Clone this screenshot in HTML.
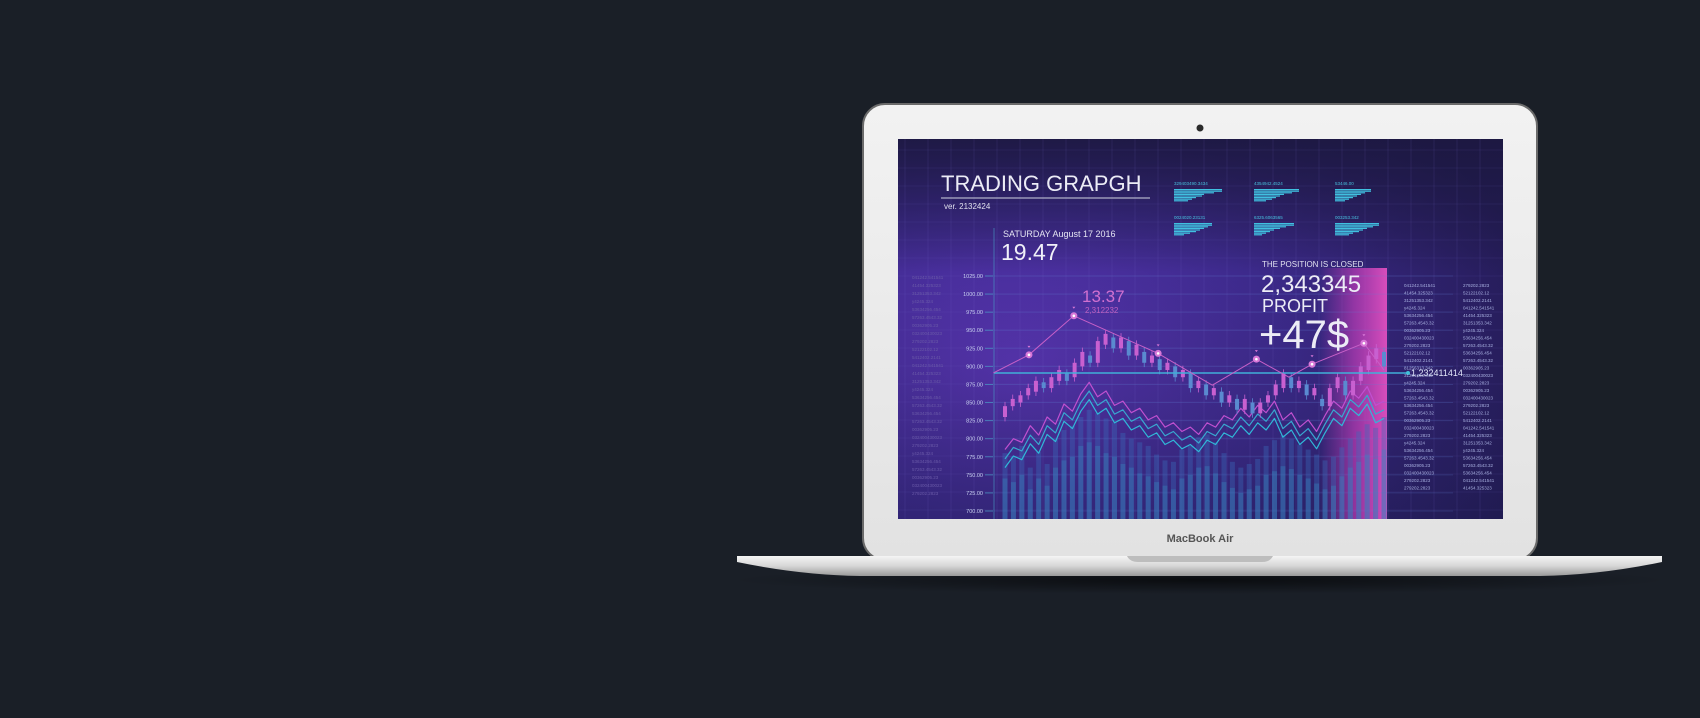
<!DOCTYPE html>
<html><head><meta charset="utf-8"><style>
html,body{margin:0;padding:0;background:#1a1f27;width:1700px;height:718px;overflow:hidden}
svg{display:block}
text{font-family:"Liberation Sans",sans-serif}
</style></head><body>
<svg id="root" width="1700" height="718" viewBox="0 0 1700 718">
<defs>
<linearGradient id="lid" x1="0" y1="0" x2="0" y2="1"><stop offset="0" stop-color="#f2f2f2"/><stop offset="1" stop-color="#e2e2e2"/></linearGradient>
<linearGradient id="base" x1="0" y1="0" x2="0" y2="1"><stop offset="0" stop-color="#f4f4f4"/><stop offset="0.5" stop-color="#d6d6d6"/><stop offset="1" stop-color="#9a9a9a"/></linearGradient>
<radialGradient id="scr" cx="0.2" cy="0.6" r="0.9"><stop offset="0" stop-color="#5b36b6"/><stop offset="0.5" stop-color="#3d2a8c"/><stop offset="1" stop-color="#231b54"/></radialGradient>
<linearGradient id="scrTop" x1="0" y1="0" x2="0" y2="1"><stop offset="0" stop-color="#1c1840" stop-opacity="0.9"/><stop offset="0.35" stop-color="#1c1840" stop-opacity="0"/><stop offset="1" stop-color="#1a1a4a" stop-opacity="0.35"/></linearGradient>
<linearGradient id="pink" x1="0" y1="0" x2="1" y2="0"><stop offset="0" stop-color="#d040c0" stop-opacity="0"/><stop offset="0.5" stop-color="#d040c0" stop-opacity="0.6"/><stop offset="1" stop-color="#e050c0" stop-opacity="0.95"/></linearGradient>
<radialGradient id="shadow" cx="0.5" cy="0.5" r="0.5"><stop offset="0" stop-color="#000" stop-opacity="0.6"/><stop offset="1" stop-color="#000" stop-opacity="0"/></radialGradient>
<clipPath id="clip"><rect x="898" y="139" width="605" height="380"/></clipPath>
</defs>
<ellipse cx="1200" cy="580" rx="470" ry="14" fill="url(#shadow)"/>
<rect x="863" y="104" width="674" height="456" rx="22" fill="url(#lid)" stroke="#6a6a6a" stroke-width="2"/>
<circle cx="1200" cy="128" r="3.5" fill="#2a2a2a"/>
<rect x="898" y="139" width="605" height="380" fill="url(#scr)"/>
<rect x="898" y="139" width="605" height="380" fill="url(#scrTop)" pointer-events="none"/>
<g id="screen" clip-path="url(#clip)"></g>
<text x="1200" y="542" font-size="11" font-weight="bold" fill="#555" text-anchor="middle">MacBook Air</text>
<path d="M737 556 L1662 556 L1662 562 Q1600 575 1540 576 L860 576 Q800 575 737 562 Z" fill="url(#base)"/>
<path d="M1127 556 L1273 556 Q1270 562 1262 562 L1138 562 Q1130 562 1127 556 Z" fill="#bdbdbd"/>
</svg>
<script>
const yTicks=[1025,1000,975,950,925,900,875,850,825,800,775,750,725,700];
const opens=[830,845,850,860,865,878,870,880,890,885,900,915,905,930,940,925,935,915,920,905,910,895,900,885,890,870,875,860,865,850,855,840,850,835,850,860,870,885,870,875,860,855,845,870,880,860,880,895,910,920];
const closes=[845,855,860,870,880,870,885,895,880,905,920,905,935,945,925,940,915,930,905,915,895,905,885,895,870,880,860,870,850,860,840,855,835,850,860,875,890,870,880,860,870,845,870,885,860,880,900,915,925,900];
const wave1=[785,800,795,818,805,830,820,848,838,862,878,858,866,846,852,836,842,826,832,816,822,810,816,806,822,816,832,826,842,830,846,836,852,826,836,816,826,810,832,852,842,866,856,872,846,852];
const wave2=[772,788,783,805,792,818,808,836,826,850,866,846,854,834,840,824,830,814,820,804,810,798,804,794,810,804,820,814,830,818,834,824,840,814,824,804,814,798,820,840,830,854,844,860,834,840];
const wave3=[760,776,771,793,780,806,796,824,814,838,854,834,842,822,828,812,818,802,808,792,798,786,792,782,798,792,808,802,818,806,822,812,828,802,812,792,802,786,808,828,818,842,832,848,822,828];
const barTops=[780,775,790,760,782,765,800,812,818,830,840,835,828,822,808,800,795,790,778,770,768,785,790,802,806,795,780,768,760,765,772,790,798,805,800,792,785,778,770,775,788,800,810,820,815,830];
const barLow=[745,740,750,730,745,735,760,770,775,790,795,790,780,775,765,760,752,748,740,735,730,745,750,760,762,752,740,732,725,730,735,750,755,762,758,750,745,738,730,735,748,760,768,778,772,785];
const pinkIdx=[-1.5,3.1,8.9,19.8,26.8,32.5,36.7,39.7,46.4,49];
const pinkVal=[891,916,970,918,874,910,885,903,932,895];
const pinkDots=[1,2,3,5,7,8];
const leftNums=["041242.541541","41454.325323","31251353.342","y4245.324","53634256.454","57263.4543.32","00362905.23","032400430023","279202.2823","52122102.12","5412402.2141","041242.541541","41454.325323","31251353.342","y4245.324","53634256.454","57263.4543.32","53634256.454","57263.4543.32","00362905.23","032400430023","279202.2823","y4245.324","53634256.454","57263.4543.32","00362905.23","032400430023","279202.2823"];
const rightNums1=["041242.541541","41454.325323","31251353.342","y4245.324","53634256.454","57263.4543.32","00362905.23","032400430023","279202.2823","52122102.12","5412402.2141","81256313.342","31251353.342","y4245.324","53634256.454","57263.4543.32","53634256.454","57263.4543.32","00362905.23","032400430023","279202.2823","y4245.324","53634256.454","57263.4543.32","00362905.23","032400430023","279202.2823","279202.2823"];
const rightNums2=["279202.2823","52122102.12","5412402.2141","041242.541541","41454.325323","31251353.342","y4245.324","53634256.454","57263.4543.32","53634256.454","57263.4543.32","00362905.23","032400430023","279202.2823","00362905.23","032400430023","279202.2823","52122102.12","5412402.2141","041242.541541","41454.325323","31251353.342","y4245.324","53634256.454","57263.4543.32","53634256.454","041242.541541","41454.325323"];
const miniLabels=["329403490.3434","4354942.4524","53446.00","0024020.23131","6325.6063565","003253.342"];
const miniWidths=[[48,48,40,30,28,22,18,14],[45,45,38,30,26,22,18,12],[36,36,30,26,22,18,14,10],[38,38,34,30,26,22,16,10],[40,40,32,26,20,16,12,8],[44,44,38,32,28,24,18,14]];
const N=opens.length;
const ns="http://www.w3.org/2000/svg";
const g=document.getElementById('screen');
function yS(v){return 276+(1025-v)*(235/325);}
function xS(i){return 1005+i*(379/(N-1));}
function mk(tag,attrs,parent){const e=document.createElementNS(ns,tag);for(const k in attrs)e.setAttribute(k,attrs[k]);(parent||g).appendChild(e);return e;}
function txt(x,y,s,size,fill,parent,anchor){const t=mk('text',{x:x,y:y,'font-size':size,fill:fill},parent);if(anchor)t.setAttribute('text-anchor',anchor);t.textContent=s;return t;}
for(let x=905;x<1503;x+=23){const l=mk('line',{x1:x,y1:139,x2:x,y2:519,stroke:'#7a70d0','stroke-opacity':0.13});}
for(let y=150;y<519;y+=18){const l=mk('line',{x1:898,y1:y,x2:1503,y2:y,stroke:'#7a70d0','stroke-opacity':0.1});}
const pk=mk('rect',{x:1320,y:268,width:67,height:251,fill:'url(#pink)'});


const ax=mk('line',{x1:994,y1:228,x2:994,y2:519,stroke:'#4a9ec8','stroke-opacity':0.6});


yTicks.forEach(v=>{const y=yS(v);
 const t=txt(983,y+2,v.toFixed(2),5.5,'#c8d0f0',g,'end');
 
 
 mk('line',{x1:985,y1:y,x2:993,y2:y,stroke:'#4a9ec8','stroke-opacity':0.7});
 mk('line',{x1:994,y1:y,x2:1453,y2:y,stroke:'#5a80d0','stroke-opacity':0.22});
});
barTops.forEach((v,i)=>{const x=1005+i*(379/(barTops.length-1));
 const b=mk('rect',{x:x-2.5,y:yS(v),width:5,height:519-yS(v),fill:'#3a6ab8','fill-opacity':0.4});
 
 
 const b2=mk('rect',{x:x-2.5,y:yS(barLow[i]),width:5,height:519-yS(barLow[i]),fill:'#3a8ac0','fill-opacity':0.35});
 
 
});
function wave(arr,color,name){const d=arr.map((v,i)=>(i?'L':'M')+(1005+i*(379/(arr.length-1))).toFixed(1)+' '+yS(v).toFixed(1)).join(' ');
 const p=mk('path',{d:d,fill:'none',stroke:color,'stroke-width':1.2,'stroke-linejoin':'round'});
 
 }
wave(wave1,'#c050d0','wave-line-upper');
wave(wave2,'#38a8d0','wave-line-middle');
wave(wave3,'#30b8d8','wave-line-lower');
for(let i=0;i<N;i++){const o=opens[i],c=closes[i],x=xS(i);const up=c>=o;
 const col=up?'#c860d0':'#5a8ad0';
 mk('line',{x1:x,y1:yS(Math.max(o,c)+6),x2:x,y2:yS(Math.min(o,c)-6),stroke:col,'stroke-width':0.8});
 const r=mk('rect',{x:x-2,y:yS(Math.max(o,c)),width:4,height:Math.max(1,Math.abs(yS(o)-yS(c))),fill:col});
 
 }
const hl=mk('line',{x1:994,y1:373,x2:1408,y2:373,stroke:'#40b0d8','stroke-width':1.5});


mk('circle',{cx:1408,cy:373,r:2,fill:'#40c0d8'});
const hlt=txt(1411,376,'1,232411414',9,'#e0e4f8');


const pd=pinkIdx.map((k,i)=>(i?'L':'M')+xS(k).toFixed(1)+' '+yS(pinkVal[i]).toFixed(1)).join(' ');
const pl=mk('path',{d:pd,fill:'none',stroke:'#c860c8','stroke-width':1});


pinkDots.forEach(k=>{const x=xS(pinkIdx[k]),y=yS(pinkVal[k]);
 const c=mk('circle',{cx:x,cy:y,r:3.5,fill:'#d878d8'});
 
 
 mk('circle',{cx:x,cy:y,r:1.3,fill:'#fff'});
 mk('path',{d:`M${x-1.5} ${y-9} L${x+1.5} ${y-9} L${x} ${y-7} Z`,fill:'#d878d8'});
});
function named(t,n){}
named(txt(941,191,'TRADING GRAPGH',22,'#ececf6'),'title');
mk('line',{x1:941,y1:198,x2:1150,y2:198,stroke:'#b0b0c8','stroke-width':1.2});
named(txt(944,209,'ver. 2132424',8,'#e0e0ee'),'version-label');
named(txt(1003,237,'SATURDAY  August  17  2016',9,'#e4e4f2'),'date-label');
named(txt(1001,260,'19.47',23,'#f0f0f8'),'time-value');
named(txt(1082,302,'13.37',17,'#d070d0'),'peak-value');
named(txt(1085,313,'2,312232',8,'#c060c0'),'peak-sub-value');
named(txt(1262,267,'THE POSITION IS CLOSED',8,'#e0e0f0'),'position-status');
named(txt(1261,292,'2,343345',24,'#ececf6'),'position-amount');
named(txt(1262,312,'PROFIT',18,'#ececf6'),'profit-label');
named(txt(1259,348,'+47$',40,'#ececf6'),'profit-value');
const mx=[1174,1254,1335],my=[185,219];
miniLabels.forEach((s,k)=>{const x=mx[k%3],y=my[Math.floor(k/3)];
 named(txt(x,y,s,4.5,'#48c0e0'),'mini-stat-label');
 miniWidths[k].forEach((w,j)=>{const r=mk('rect',{x:x,y:y+4+j*1.6,width:w,height:1.2,fill:'#40c0e0'});});
});
leftNums.forEach((s,i)=>named(txt(912,279+i*8,s,4.5,'#6a5aa8'),'left-data-column'));
rightNums1.forEach((s,i)=>named(txt(1404,287+i*7.5,s,4.5,'#a8b0e0'),'right-data-column'));
rightNums2.forEach((s,i)=>named(txt(1463,287+i*7.5,s,4.5,'#a8b0e0'),'right-data-column-2'));
</script>
</body></html>
